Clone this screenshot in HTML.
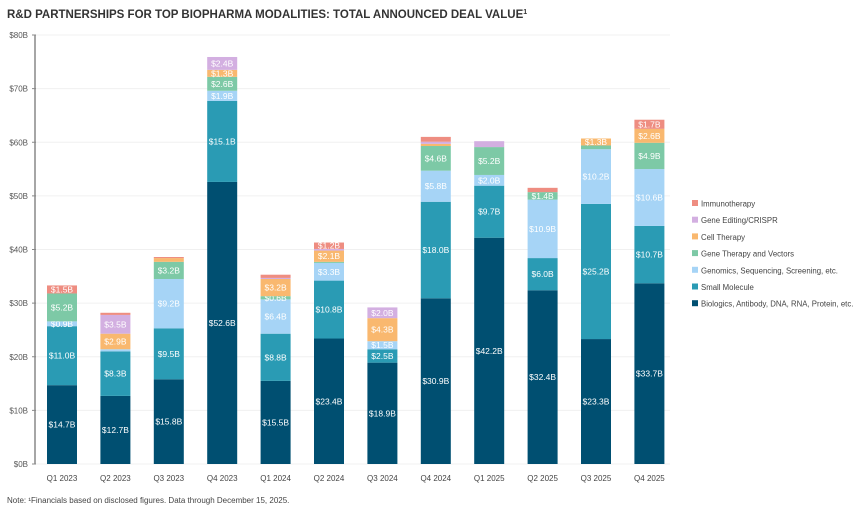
<!DOCTYPE html>
<html><head><meta charset="utf-8"><style>
body{margin:0;background:#fff;font-family:"Liberation Sans",sans-serif;}
svg text{font-family:"Liberation Sans",sans-serif;}
</style></head><body>
<svg id="c" width="865" height="507" viewBox="0 0 865 507">
<text x="7" y="18" font-size="11.5" font-weight="bold" fill="#333">R&amp;D PARTNERSHIPS FOR TOP BIOPHARMA MODALITIES: TOTAL ANNOUNCED DEAL VALUE<tspan font-size="7" dy="-4">1</tspan></text>
<text x="7" y="503" font-size="8" fill="#444">Note: ¹Financials based on disclosed figures. Data through December 15, 2025.</text>
<g id="grid"></g><g id="bars"></g><g id="axes"></g><g id="legend"></g>
</svg>
<script>
const categories=["Q1 2023","Q2 2023","Q3 2023","Q4 2023","Q1 2024","Q2 2024","Q3 2024","Q4 2024","Q1 2025","Q2 2025","Q3 2025","Q4 2025"];
const seriesNames=["Biologics, Antibody, DNA, RNA, Protein, etc.","Small Molecule","Genomics, Sequencing, Screening, etc.","Gene Therapy and Vectors","Cell Therapy","Gene Editing/CRISPR","Immunotherapy"];
const biologics=[14.7,12.7,15.8,52.6,15.5,23.4,18.9,30.9,42.2,32.4,23.3,33.7];
const smallMolecule=[11.0,8.3,9.5,15.1,8.8,10.8,2.5,18.0,9.7,6.0,25.2,10.7];
const genomics=[0.9,0.4,9.2,1.9,6.4,3.3,1.5,5.8,2.0,10.9,10.2,10.6];
const geneTherapy=[5.2,0,3.2,2.6,0.6,0.2,0,4.6,5.2,1.4,0.7,4.9];
const cellTherapy=[0,2.9,0.7,1.3,3.2,2.1,4.3,0.4,0,0,1.3,2.6];
const geneEditing=[0,3.5,0,2.4,0.2,0.3,2.0,0.4,1.1,0,0,0];
const immunotherapy=[1.5,0.4,0.2,0,0.6,1.2,0,0.9,0,0.8,0,1.7];
const yTicks=[0,10,20,30,40,50,60,70,80];
const hiddenLabels=["4-2","6-7","3-10","6-4","6-9","5-8"];
const colors=["#004f71","#2a9bb4","#a6d4f6","#7dc9a6","#f9b86f","#d3afe1","#ee8d81"];
const series=[biologics,smallMolecule,genomics,geneTherapy,cellTherapy,geneEditing,immunotherapy];
const NS="http://www.w3.org/2000/svg";
const y0=464,yTop=35,yMax=80;
const y=v=>y0-(v/yMax)*(y0-yTop);
const x=i=>62+i*53.4;
const bw=30;
function mk(t,a,p){const e=document.createElementNS(NS,t);for(const k in a)e.setAttribute(k,a[k]);p.appendChild(e);return e;}
const grid=document.getElementById('grid'),axes=document.getElementById('axes'),bars=document.getElementById('bars'),legend=document.getElementById('legend');
yTicks.forEach(t=>{
 const g=mk('line',{x1:36,x2:670,y1:y(t),y2:y(t),stroke:'#f0f0f0','stroke-width':1},grid);
 
 
 const tk=mk('line',{x1:32,x2:36,y1:y(t),y2:y(t),stroke:'#888'},axes);
 
 
 const tx=mk('text',{x:28,y:y(t)+3,'font-size':8,fill:'#555','text-anchor':'end'},axes);
 tx.textContent='$'+t+'B';
 
 
});
const ax=mk('line',{x1:35,x2:35,y1:yTop,y2:y0,stroke:'#888','stroke-width':1.5},axes);


categories.forEach((c,i)=>{
 let acc=0;
 series.forEach((s,k)=>{
  const v=s[i]; if(!v) return;
  const r=mk('rect',{x:x(i)-bw/2,y:y(acc+v),width:bw,height:y(acc)-y(acc+v),fill:colors[k]},bars);
  
  
  if(v>=0.5 && !hiddenLabels.includes(k+'-'+i)){
   const t=mk('text',{x:x(i),y:(y(acc)+y(acc+v))/2+3,'font-size':8.5,fill:'#fff','text-anchor':'middle'},bars);
   t.textContent='$'+v.toFixed(1)+'B';
   
   
  }
  acc+=v;
 });
 const l=mk('text',{x:x(i),y:481,'font-size':8,fill:'#444','text-anchor':'middle'},axes);
 l.textContent=c;
 
 
});
for(let k=6;k>=0;k--){
 const yy=205+(6-k)*16.7;
 const r=mk('rect',{x:692,y:yy-5,width:6,height:6,fill:colors[k]},legend);
 
 
 const t=mk('text',{x:701,y:yy+1.5,'font-size':7.8,fill:'#444'},legend);
 t.textContent=seriesNames[k];
 
 
}
</script>
</body></html>
